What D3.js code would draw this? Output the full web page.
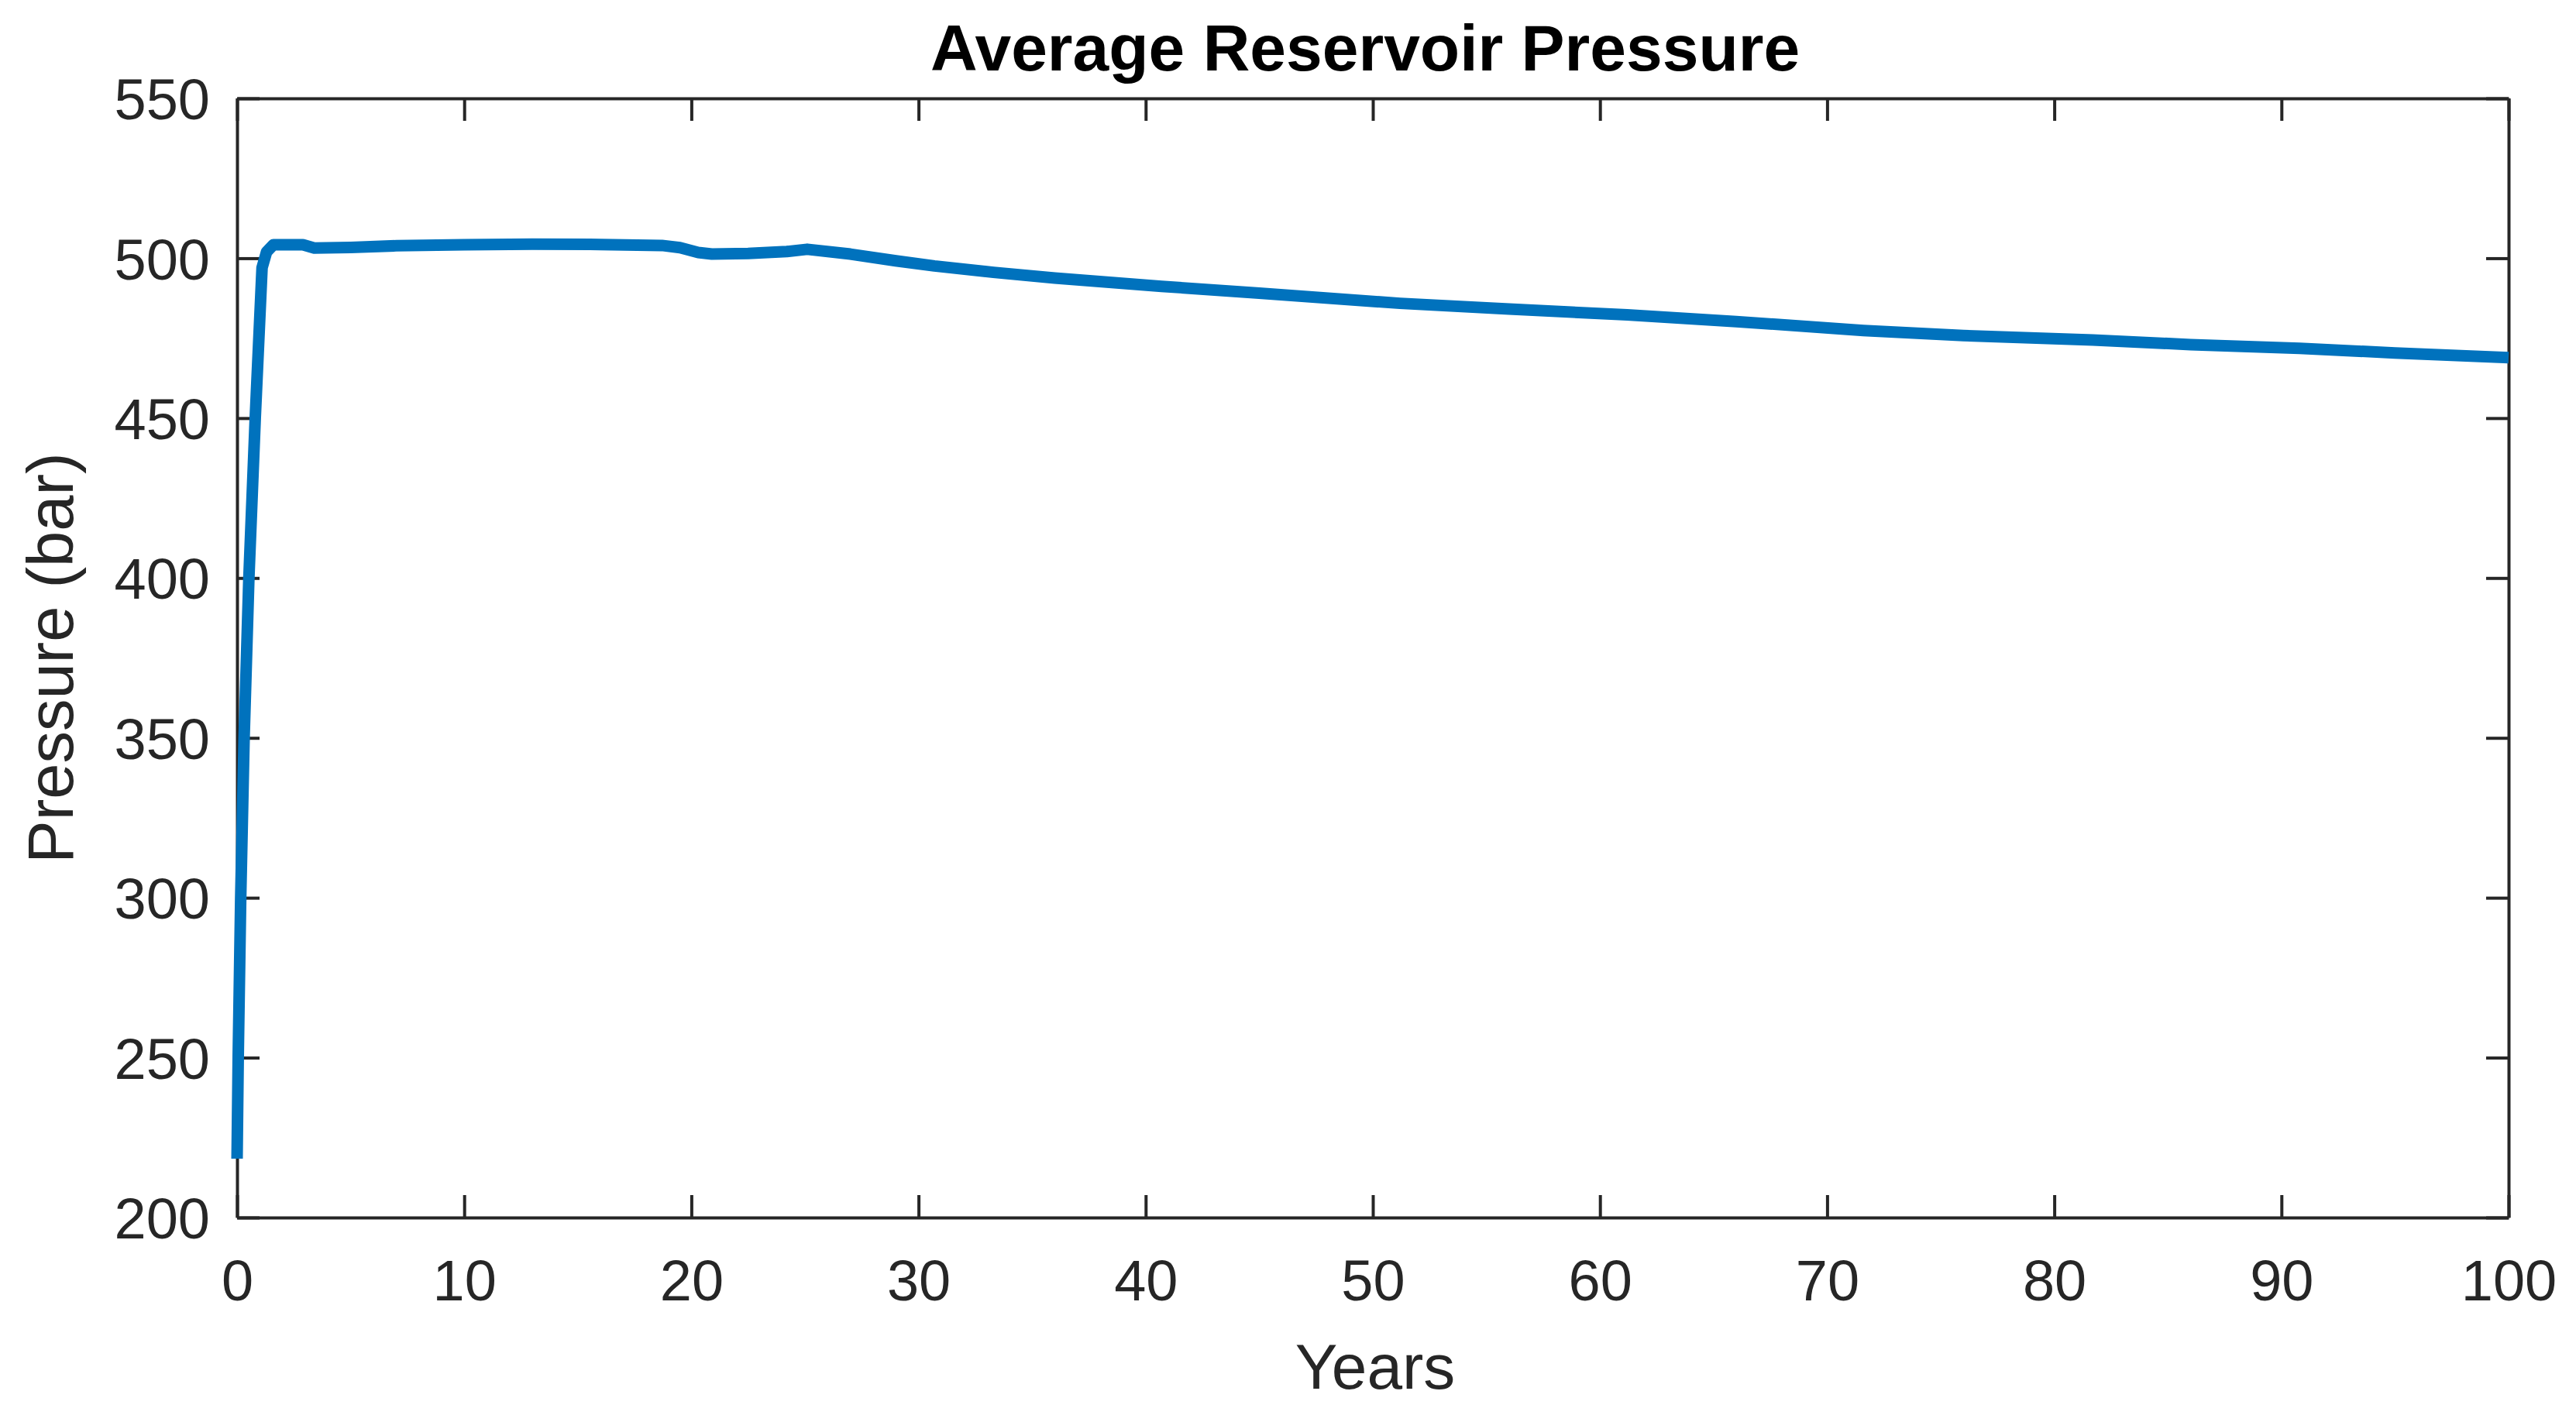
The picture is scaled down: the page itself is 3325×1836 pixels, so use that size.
<!DOCTYPE html>
<html>
<head>
<meta charset="utf-8">
<title>Average Reservoir Pressure</title>
<script src="https://d3js.org/d3.v7.min.js"></script>
<style>
  body { margin: 0; background: #fff; }
  svg text { font-family: "Liberation Sans", Arial, sans-serif; }
</style>
</head>
<body>
<svg id="chart" width="3325" height="1836"></svg>
<script>
// values
const years = [0, 0.05, 0.16, 0.31, 0.52, 0.8, 1.1, 1.3, 1.6, 2.9, 3.4, 5, 7, 10, 13, 16, 18.7, 19.5,
  20.3, 20.9, 22.5, 24.2, 25.1, 27, 29, 30.7, 33.3, 36, 40.7, 45, 51.2, 56, 61.2, 66, 71.6, 76,
  81.7, 86, 90.8, 95, 100];
const pressure = [218.4, 250, 300, 350, 400, 450, 497, 502, 504.2, 504.2, 503.2, 503.4, 503.9, 504.2,
  504.4, 504.3, 504.0, 503.3, 501.8, 501.3, 501.5, 502.1, 502.8, 501.3, 499.2, 497.6, 495.6, 493.8,
  491.2, 489.1, 485.9, 484.1, 482.3, 480.2, 477.4, 475.8, 474.4, 473.0, 471.8, 470.4, 468.9];
const xTicks = [0, 10, 20, 30, 40, 50, 60, 70, 80, 90, 100];
const yTicks = [200, 250, 300, 350, 400, 450, 500, 550];

const svg = d3.select("#chart");
const m = { left: 306, right: 3238, top: 127, bottom: 1572 };
const axisColor = "#262626";
const tickLen = 29;

let x = d3.scaleLinear().domain([0, 100]).range([m.left, m.right]);
let y = d3.scaleLinear().domain([200, 550]).range([m.bottom, m.top]);

// box with inward ticks on all four sides
let xb = svg.append("g").attr("transform", `translate(0,${m.bottom})`)
  .call(d3.axisBottom(x).tickValues(xTicks).tickSizeInner(-tickLen).tickSizeOuter(0).tickPadding(54));
let xt = svg.append("g").attr("transform", `translate(0,${m.top})`)
  .call(d3.axisTop(x).tickValues(xTicks).tickSizeInner(-tickLen).tickSizeOuter(0).tickFormat(""));
let yl = svg.append("g").attr("transform", `translate(${m.left},0)`)
  .call(d3.axisLeft(y).tickValues(yTicks).tickSizeInner(-tickLen).tickSizeOuter(0).tickPadding(35));
let yr = svg.append("g").attr("transform", `translate(${m.right},0)`)
  .call(d3.axisRight(y).tickValues(yTicks).tickSizeInner(-tickLen).tickSizeOuter(0).tickFormat(""));

[xb, xt, yl, yr].forEach(g => {
  g.selectAll("path.domain").attr("stroke", axisColor).attr("stroke-width", 4);
  g.selectAll(".tick line").attr("stroke", axisColor).attr("stroke-width", 4);
  g.selectAll(".tick text").attr("fill", axisColor).attr("font-size", 74)
    .attr("font-family", "Liberation Sans, Arial, sans-serif");
});
xb.selectAll(".tick text").attr("dy", "0.71em");
yl.selectAll(".tick text").attr("dy", "0.36em");

// the line
let line = d3.line().x((d, i) => x(years[i])).y(d => y(d));
svg.append("path")
  .datum(pressure)
  .attr("d", line)
  .attr("fill", "none")
  .attr("stroke", "#0072BD")
  .attr("stroke-width", 15)
  .attr("stroke-linejoin", "round");

// title and labels
svg.append("text")
  .attr("x", 1762).attr("y", 91)
  .attr("text-anchor", "middle")
  .attr("font-size", 84).attr("font-weight", "bold")
  .attr("fill", "#000")
  .text("Average Reservoir Pressure");

svg.append("text")
  .attr("x", 1775).attr("y", 1793)
  .attr("text-anchor", "middle")
  .attr("font-size", 82)
  .attr("fill", axisColor)
  .text("Years");

svg.append("text")
  .attr("transform", `translate(94,${(m.top + m.bottom) / 2}) rotate(-90)`)
  .attr("text-anchor", "middle")
  .attr("font-size", 83)
  .attr("fill", axisColor)
  .text("Pressure (bar)");
</script>
</body>
</html>
